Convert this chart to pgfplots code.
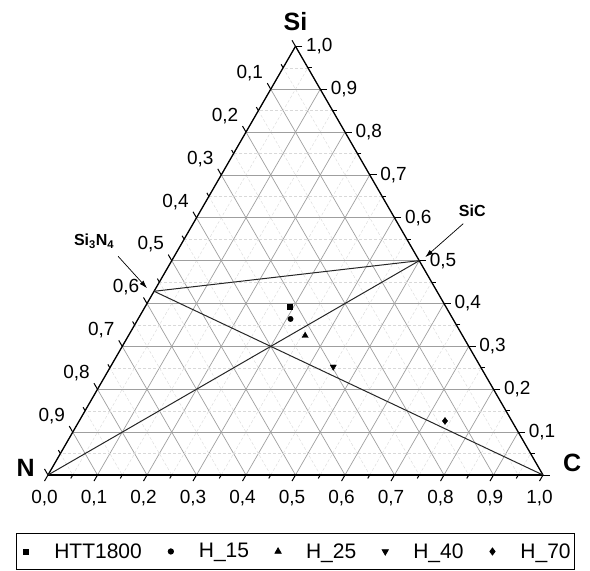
\documentclass[border=0pt]{standalone}
\usepackage{pgfplots}
\pgfplotsset{compat=1.18}
\usepgfplotslibrary{ternary}
\usetikzlibrary{arrows.meta}
\usepackage{fontspec}
\setmainfont{Liberation Sans}
% bottom labels sit a little lower
\newcommand\bl[1]{\rule{0pt}{19pt}#1}
\begin{document}
\begin{tikzpicture}
% coordinates are (Si, N, C)
\begin{ternaryaxis}[
  width=495pt, height=429pt, scale only axis,
  xmin=0,xmax=1,ymin=0,ymax=1,zmin=0,zmax=1,
  xlabel={}, ylabel={}, zlabel={},
  xtick={0,0.1,0.2,0.3,0.4,0.5,0.6,0.7,0.8,0.9,1},
  ytick={0,0.1,0.2,0.3,0.4,0.5,0.6,0.7,0.8,0.9,1},
  ztick={0,0.1,0.2,0.3,0.4,0.5,0.6,0.7,0.8,0.9,1},
  xticklabels={,{0,1},{0,2},{0,3},{0,4},{0,5},{0,6},{0,7},{0,8},{0,9},{1,0}},
  yticklabels={,{0,1},{0,2},{0,3},{0,4},{0,5},{0,6},{0,7},{0,8},{0,9},},
  zticklabels={\bl{0,0},\bl{0,1},\bl{0,2},\bl{0,3},\bl{0,4},\bl{0,5},\bl{0,6},\bl{0,7},\bl{0,8},\bl{0,9},\bl{1,0}},
  minor tick num=1,
  grid=both,
  major grid style={line width=0.7pt, draw=gray!75},
  minor grid style={line width=0.4pt, draw=gray!30, densely dashed},
  axis line style={line width=1.3pt},
  tick align=outside,
  major tick length=7pt, minor tick length=4pt,
  tick style={line width=1pt, black},
  tick label style={font=\fontsize{19}{21}\selectfont},
  legend columns=5,
  legend image code/.code={\path[draw=none,fill=none] (-8pt,0pt) -- (26pt,0pt); \draw[#1] plot coordinates {(0pt,0pt)};},
  legend style={at={(0.5,0)}, anchor=north, yshift=-58pt, draw=black, line width=0.8pt,
    inner xsep=2pt, inner ysep=8pt,
    font=\fontsize{21}{23}\selectfont,
    /tikz/every even column/.append style={column sep=19pt}},
]
\addplot3[gray!30!black, line width=1pt, forget plot] coordinates {(0.4286,0.5714,0) (0.5,0,0.5)};
\addplot3[gray!30!black, line width=1pt, forget plot] coordinates {(0.4286,0.5714,0) (0,0,1)};
\addplot3[gray!30!black, line width=1pt, forget plot] coordinates {(0,1,0) (0.5,0,0.5)};
\addplot3[only marks, mark=square*, mark size=2.5pt, black] coordinates {(0.392,0.315,0.293)};
\addlegendentry{HTT1800}
\addplot3[only marks, mark=*, mark size=2.7pt, black] coordinates {(0.364,0.328,0.308)};
\addlegendentry{H\_15}
\addplot3[only marks, mark=triangle*, mark size=3.6pt, black] coordinates {(0.325,0.318,0.357)};
\addlegendentry{H\_25}
\addplot3[only marks, mark=triangle*, mark options={rotate=180}, mark size=3.6pt, black] coordinates {(0.2525,0.297,0.450)};
\addlegendentry{H\_40}
\addplot3[only marks, mark=diamond*, mark size=3.5pt, black] coordinates {(0.126,0.135,0.739)};
\addlegendentry{H\_70}
\coordinate (Nv) at (axis cs:0,1,0);
\coordinate (Cv) at (axis cs:0,0,1);
\coordinate (Siv) at (axis cs:1,0,0);
\coordinate (SN) at (axis cs:0.4286,0.5714,0);
\coordinate (SC) at (axis cs:0.5,0,0.5);
\end{ternaryaxis}
\node[font=\fontsize{25}{27}\selectfont\bfseries, inner sep=0pt, anchor=base] at ([yshift=16pt]Siv) {Si};
\node[font=\fontsize{25}{27}\selectfont\bfseries, inner sep=0pt, anchor=base east] at ([xshift=-13pt,yshift=-2pt]Nv) {N};
\node[font=\fontsize{25}{27}\selectfont\bfseries, inner sep=0pt, anchor=base west] at ([xshift=20pt,yshift=3pt]Cv) {C};
\draw[-{Latex[length=8pt,width=5pt]}, line width=0.7pt] ([shift={(-36pt,35pt)}]SN) -- ([shift={(-7pt,3pt)}]SN);
\node[font=\fontsize{16}{18}\selectfont\bfseries, inner sep=0pt] at ([shift={(-60pt,50pt)}]SN) {Si\textsubscript{3}N\textsubscript{4}};
\draw[-{Latex[length=8pt,width=5pt]}, line width=0.7pt] ([shift={(44pt,37pt)}]SC) -- ([shift={(6pt,3.5pt)}]SC);
\node[font=\fontsize{16}{18}\selectfont\bfseries, inner sep=0pt] at ([shift={(53pt,50pt)}]SC) {SiC};
\path ([shift={(-48pt,-96pt)}]Nv) rectangle ([shift={(542pt,475pt)}]Nv);
\end{tikzpicture}
\end{document}
